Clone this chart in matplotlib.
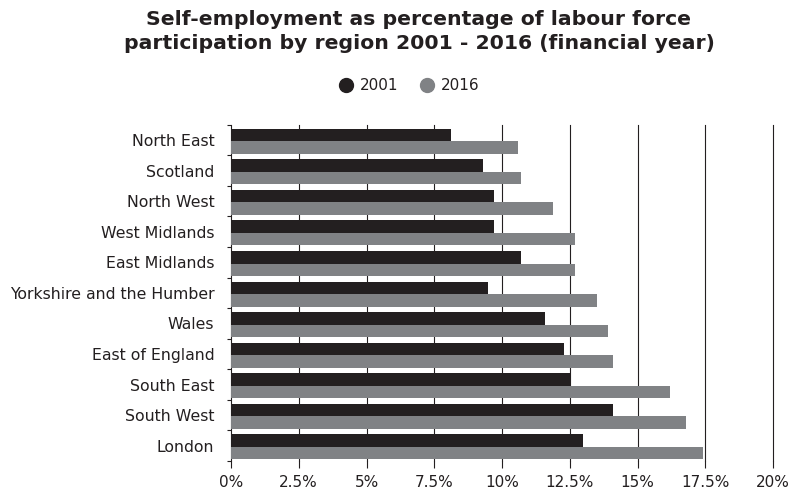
import numpy as np
import matplotlib.pyplot as plt
from matplotlib.lines import Line2D

regions = ["North East", "Scotland", "North West", "West Midlands", "East Midlands",
           "Yorkshire and the Humber", "Wales", "East of England", "South East",
           "South West", "London"]
share_2001 = [8.1, 9.3, 9.7, 9.7, 10.7, 9.5, 11.6, 12.3, 12.5, 14.1, 13.0]
share_2016 = [10.6, 10.7, 11.9, 12.7, 12.7, 13.5, 13.9, 14.1, 16.2, 16.8, 17.4]
x_ticks = [0, 2.5, 5, 7.5, 10, 12.5, 15, 17.5, 20]
x_labels = ["0%", "2.5%", "5%", "7.5%", "10%", "12.5%", "15%", "17.5%", "20%"]

dark = "#231f20"
grey = "#808285"

plt.rcParams["font.family"] = ["DejaVu Sans"]

fig = plt.figure(figsize=(7.94, 4.91), dpi=100)
ax = fig.add_axes([231 / 794, 1 - 461 / 491, (773 - 231) / 794, (461 - 124.7) / 491])

y = np.arange(len(regions))
h = 0.41
ax.barh(y - h / 2 + 0.04, share_2001, height=h, color=dark, zorder=3)
ax.barh(y + h / 2 + 0.04, share_2016, height=h, color=grey, zorder=3)

ax.set_xlim(0, 20)
ax.set_ylim(len(regions) - 0.5, -0.5)
ax.set_xticks(x_ticks)
ax.set_xticklabels(x_labels, fontsize=11, color=dark)
ax.set_yticks(y)
ax.set_yticklabels(regions, fontsize=11.3, color=dark)
ax.set_yticks(np.arange(len(regions) + 1) - 0.5, minor=True)
ax.tick_params(axis="y", which="major", length=0, pad=12)
ax.tick_params(axis="y", which="minor", length=3, width=0.8, color=dark)
ax.tick_params(axis="x", length=5, width=0.8, color=dark, pad=5)

# vertical gridlines, drawn by hand so the 20% line is not clipped at the edge
for xv in x_ticks[1:]:
    ax.axvline(xv, color=dark, linewidth=0.8, zorder=0, clip_on=False)
for side in ["top", "right", "bottom"]:
    ax.spines[side].set_visible(False)
ax.spines["left"].set_color(dark)
ax.spines["left"].set_linewidth(0.8)

fig.text(419 / 794, 1 - 10 / 491,
         "Self-employment as percentage of labour force\nparticipation by region 2001 - 2016 (financial year)",
         ha="center", va="top", fontsize=14.7, fontweight="bold", color=dark, linespacing=1.35)

handles = [Line2D([], [], marker="o", linestyle="", color=dark, markersize=10),
           Line2D([], [], marker="o", linestyle="", color=grey, markersize=10)]
fig.legend(handles, ["2001", "2016"], loc="center", bbox_to_anchor=(409 / 794, 1 - 86 / 491),
           ncol=2, frameon=False, fontsize=11, handletextpad=0.4, columnspacing=1.4,
           handlelength=1.0, labelcolor=dark)

fig.savefig("out.png", dpi=100)
